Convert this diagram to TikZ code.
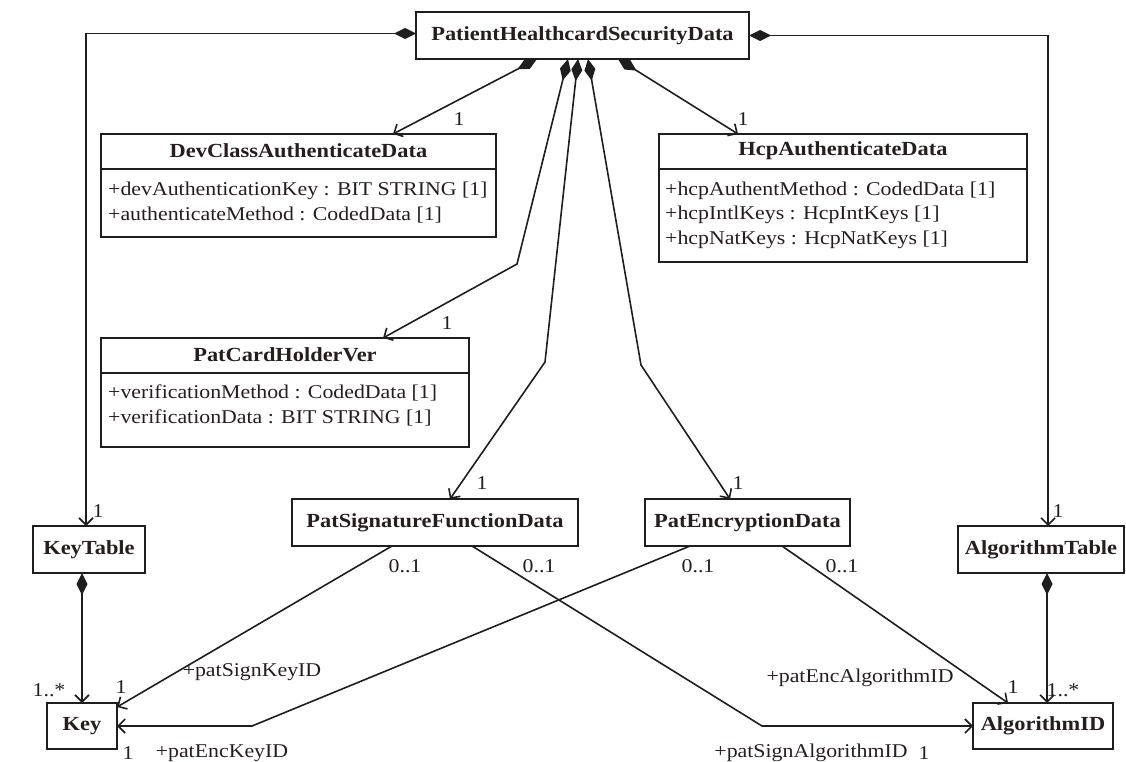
\documentclass[tikz,border=0pt]{standalone}
\usepackage{fontspec}
\setmainfont[FakeStretch=1.12]{Liberation Serif}
\usetikzlibrary{arrows.meta,calc}
\definecolor{textcol}{RGB}{38,30,30}
\definecolor{linecol}{RGB}{30,30,30}
\begin{document}
\begin{tikzpicture}[x=1pt,y=-1pt,
  box/.style={draw=linecol, line width=1.7pt, inner sep=0pt, outer sep=0pt},
  titlefont/.style={font=\bfseries\fontsize{20}{22}\selectfont, text=textcol},
  attr/.style={font=\fontsize{19.5}{22}\selectfont, anchor=west, inner sep=0pt, text=textcol},
  lbl/.style={font=\fontsize{19.5}{22}\selectfont, inner sep=0pt, text=textcol},
  divline/.style={draw=linecol, line width=1.7pt},
  comp/.style={draw=linecol, line width=1.6pt, {Diamond[length=22pt,width=11pt]}-{Straight Barb[length=7pt,width=14pt]}},
  assoc/.style={draw=linecol, line width=1.6pt, -{Straight Barb[length=7pt,width=14pt]}}
]
\useasboundingbox (0,0) rectangle (1126,762);

% ---------- class boxes ----------
\node[box, titlefont, minimum width=333pt, minimum height=47pt] (phsd) at (582.5,35.5) {PatientHealthcardSecurityData};

\node[box, minimum width=395pt, minimum height=103pt] (dev) at (298.5,185.5) {};
\draw[divline] ($(dev.north west)+(0,35)$) -- ($(dev.north east)+(0,35)$);
\node[titlefont, inner sep=0pt] (devT) at ($(dev.north)+(0,17)$) {DevClassAuthenticateData};
\node[attr] (devA1) at ($(dev.north west)+(7,57)$) {+devAuthenticationKey : BIT STRING [1]};
\node[attr] (devA2) at ($(dev.north west)+(7,81)$) {+authenticateMethod : CodedData [1]};

\node[box, minimum width=368pt, minimum height=128pt] (hcp) at (843,198) {};
\draw[divline] ($(hcp.north west)+(0,35)$) -- ($(hcp.north east)+(0,35)$);
\node[titlefont, inner sep=0pt] (hcpT) at ($(hcp.north)+(0,17)$) {HcpAuthenticateData};
\node[attr] (hcpA1) at ($(hcp.north west)+(6,57)$) {+hcpAuthentMethod : CodedData [1]};
\node[attr] (hcpA2) at ($(hcp.north west)+(6,81)$) {+hcpIntlKeys : HcpIntKeys [1]};
\node[attr] (hcpA3) at ($(hcp.north west)+(6,106)$) {+hcpNatKeys : HcpNatKeys [1]};

\node[box, minimum width=368pt, minimum height=109pt] (pch) at (285,392.5) {};
\draw[divline] ($(pch.north west)+(0,35)$) -- ($(pch.north east)+(0,35)$);
\node[titlefont, inner sep=0pt] (pchT) at ($(pch.north)+(0,17)$) {PatCardHolderVer};
\node[attr] (pchA1) at ($(pch.north west)+(7,55)$) {+verificationMethod : CodedData [1]};
\node[attr] (pchA2) at ($(pch.north west)+(7,80)$) {+verificationData : BIT STRING [1]};

\node[box, titlefont, minimum width=286pt, minimum height=47pt] (psig) at (435,522.5) {PatSignatureFunctionData};
\node[box, titlefont, minimum width=205pt, minimum height=47pt] (penc) at (747.5,522.5) {PatEncryptionData};
\node[box, titlefont, minimum width=112pt, minimum height=47pt] (ktab) at (89,549.5) {KeyTable};
\node[box, titlefont, minimum width=70pt, minimum height=46pt] (key) at (82,726) {Key};
\node[box, titlefont, minimum width=166pt, minimum height=47pt] (atab) at (1041,549.5) {AlgorithmTable};
\node[box, titlefont, minimum width=140pt, minimum height=46pt] (aid) at (1043,726) {AlgorithmID};

% ---------- bend points ----------
\coordinate (b1) at (517,264);
\coordinate (b2) at (545,362);
\coordinate (b3) at (641,365);
\coordinate (b4) at (252,726);
\coordinate (b5) at (762,726);

% ---------- composition connectors ----------
\draw[comp] ($(phsd.west)+(0,-2)$) -| ($(ktab.north)+(-3,0)$);
\draw[comp] (phsd.east) -| ($(atab.north)+(7,0)$);
\draw[comp] ($(phsd.south west)+(121,0)$) -- ($(dev.north west)+(292,0)$);
\draw[comp] ($(phsd.south west)+(202,0)$) -- ($(hcp.north west)+(79,0)$);
\draw[comp] ($(phsd.south west)+(152,0)$) -- (b1) -- ($(pch.north west)+(282,0)$);
\draw[comp] ($(phsd.south west)+(162,0)$) -- (b2) -- ($(psig.north west)+(158,0)$);
\draw[comp] ($(phsd.south west)+(172,0)$) -- (b3) -- ($(penc.north west)+(85,0)$);
\draw[comp] ($(ktab.south)+(-7,0)$) -- (key.north);
\draw[comp] ($(atab.south)+(6,0)$) -- ($(aid.north)+(4,0)$);

% ---------- associations ----------
\draw[assoc] ($(psig.south west)+(100,0)$) -- ($(key.north east)+(0,4)$);
\draw[assoc] ($(penc.south west)+(45,0)$) -- (b4) -- (key.east);
\draw[assoc] ($(psig.south west)+(180,0)$) -- (b5) -- (aid.west);
\draw[assoc] ($(penc.south west)+(137,0)$) -- ($(aid.north west)+(35,0)$);

% ---------- multiplicities and roles ----------
\node[lbl] (m1) at (459,119) {1};
\node[lbl] (m2) at (743,119) {1};
\node[lbl] (m3) at (447,323) {1};
\node[lbl] (m4) at (482,483) {1};
\node[lbl] (m5) at (738,483) {1};
\node[lbl] (m6) at (98,511) {1};
\node[lbl] (m7) at (1058,511) {1};
\node[lbl] (m8) at (49,690) {1..*};
\node[lbl] (m9) at (1063,690) {1..*};
\node[lbl] (m10) at (121,687) {1};
\node[lbl] (m11) at (1013,687) {1};
\node[lbl] (m12) at (128,753) {1};
\node[lbl] (m13) at (924,753) {1};
\node[lbl] (m14) at (405,566) {0..1};
\node[lbl] (m15) at (539,566) {0..1};
\node[lbl] (m16) at (698,566) {0..1};
\node[lbl] (m17) at (842,566) {0..1};
\node[lbl] (r1) at (252,672) {+patSignKeyID};
\node[lbl] (r2) at (222,753) {+patEncKeyID};
\node[lbl] (r3) at (811,753) {+patSignAlgorithmID};
\node[lbl] (r4) at (860,678) {+patEncAlgorithmID};
\end{tikzpicture}
\end{document}
